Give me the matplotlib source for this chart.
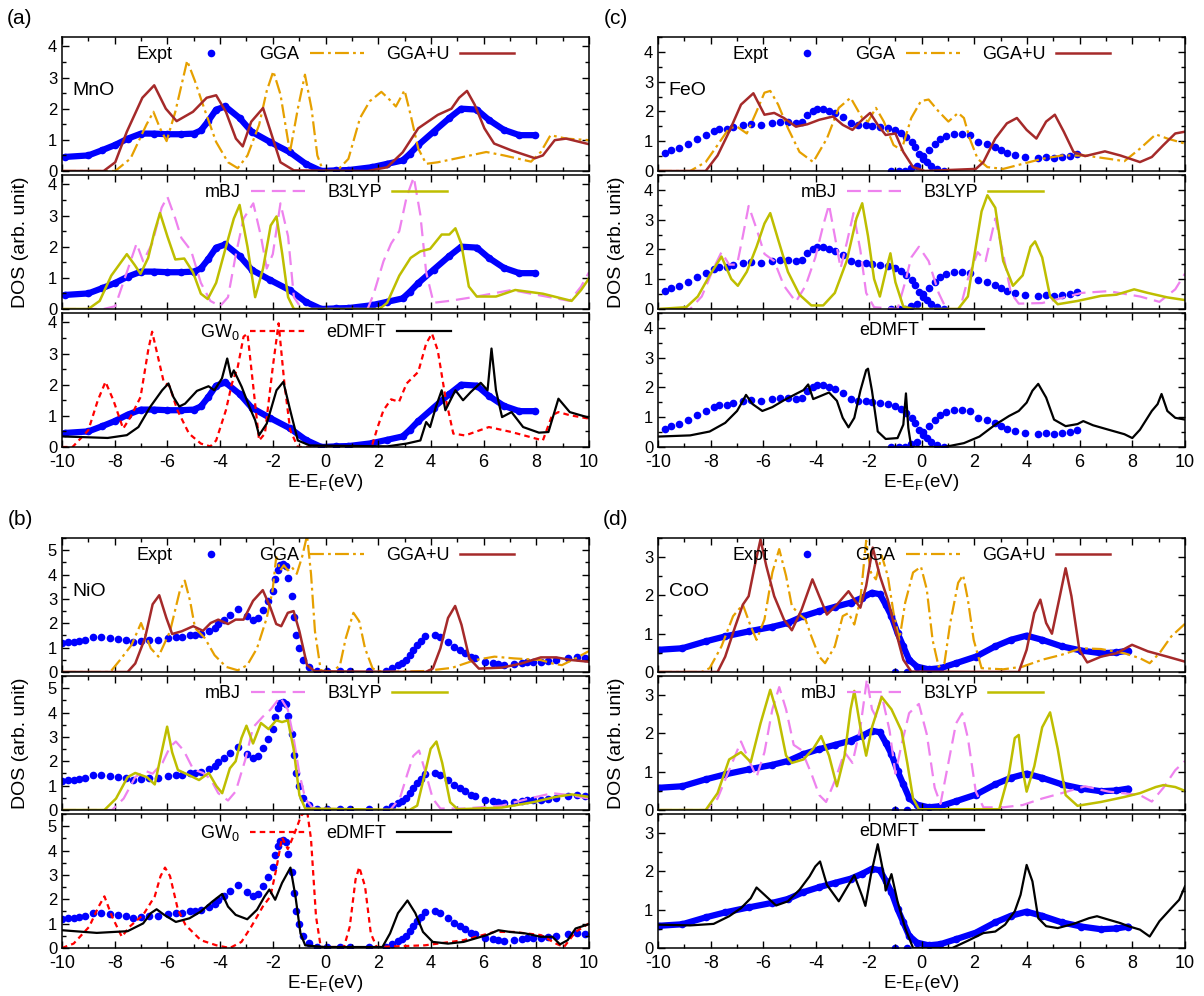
#DOS of MnO, NiO, FeO, CoO: experiment vs. GGA, GGA+U, mBJ, B3LYP, GW0, eDMFT
import numpy as np
import matplotlib.pyplot as plt
from matplotlib.ticker import MultipleLocator

plt.rcParams['font.family'] = ['Liberation Sans', 'DejaVu Sans']
plt.rcParams['mathtext.fontset'] = 'custom'
plt.rcParams['mathtext.rm'] = 'Liberation Sans'
plt.rcParams['axes.unicode_minus'] = False
plt.rcParams['lines.scale_dashes'] = False

# ---------------- MnO ----------------
mno_expt = np.array([(-9.9,0.45),(-9.0,0.5),(-8.5,0.66),(-8.0,0.83),(-7.5,1.04),(-7.0,1.2),(-6.5,1.2),(-6.0,1.18),
    (-5.5,1.18),(-5.0,1.2),(-4.73,1.3),(-4.45,1.6),(-4.15,1.97),(-3.8,2.07),(-3.26,1.7),(-2.8,1.26),(-2.1,0.93),
    (-1.35,0.6),(-0.75,0.23),(-0.16,0.0),(0.4,0.02),(0.87,0.03),(1.75,0.12),(2.34,0.23),(2.93,0.34),(3.2,0.55),
    (3.52,0.83),(4.1,1.26),(4.7,1.7),(5.15,2.0),(5.74,1.97),(6.2,1.64),(6.77,1.32),(7.36,1.15),(7.95,1.15)])
mno_gga = np.array([(-10,0),(-7.98,0),(-7.4,0.4),(-6.8,1.48),(-6.53,1.9),(-6.28,1.37),(-6.03,0.96),(-5.7,1.9),
    (-5.25,3.54),(-4.96,2.9),(-4.6,2.0),(-4.15,0.93),(-3.7,0.28),(-3.33,0.09),(-2.96,0.5),(-2.52,1.48),(-2.23,2.57),
    (-1.98,3.2),(-1.71,2.46),(-1.35,0.6),(-1.05,2.0),(-0.78,3.09),(-0.53,2.0),(-0.31,0.5),(-0.09,0),(0.43,0),
    (0.87,0.39),(1.31,1.7),(1.68,2.24),(2.12,2.54),(2.49,2.24),(2.67,2.07),(3.0,2.59),(3.23,1.8),(3.52,0.72),
    (3.82,0.23),(4.26,0.28),(5.0,0.41),(6.1,0.61),(6.77,0.5),(7.8,0.3),(8.17,0.61),(8.54,1.15),(9.13,1.04),(10,0.99)])
mno_ggau = np.array([(-10,0),(-8.42,0),(-7.98,0.28),(-7.54,1.26),(-6.95,2.35),(-6.5,2.75),(-6.06,2.0),(-5.65,1.6),
    (-5.03,1.9),(-4.51,2.35),(-4.15,2.43),(-3.78,1.9),(-3.4,1.04),(-3.14,0.79),(-2.82,1.58),(-2.37,2.02),(-2.08,1.26),
    (-1.71,0.28),(-1.2,0.02),(1.6,0),(2.34,0.12),(2.93,0.6),(3.52,1.37),(4.26,1.8),(4.78,2.0),(5.07,2.35),(5.37,2.57),
    (5.66,2.13),(6.03,1.37),(6.4,0.88),(7.06,0.66),(7.95,0.41),(8.25,0.5),(8.7,0.99),(9.13,1.04),(10,0.86)])
mno_mbj = np.array([(-10,0),(-8.42,0),(-7.98,0.09),(-7.54,1.18),(-7.17,2.1),(-6.92,1.53),(-6.58,2.1),(-6.22,3.25),
    (-6.0,3.6),(-5.7,2.9),(-5.47,2.28),(-5.1,1.87),(-4.73,0.84),(-4.37,0.26),(-4.0,0.09),(-3.7,0.38),(-3.4,1.76),
    (-3.11,2.9),(-2.74,3.39),(-2.45,2.33),(-2.23,1.3),(-2.0,1.76),(-1.71,3.39),(-1.42,2.33),(-1.2,0.38),(-0.9,0),
    (1.6,0),(1.83,0.49),(2.2,1.53),(2.49,2.1),(2.8,2.5),(3.08,3.6),(3.35,4.23),(3.6,3.02),(3.82,1.18),(4.1,0.2),
    (4.7,0.26),(5.6,0.38),(7.06,0.61),(7.8,0.49),(9.27,0.26),(9.7,0.72),(10,1.18)])
mno_b3lyp = np.array([(-10,0),(-9.0,0),(-8.57,0.26),(-8.13,1.07),(-7.54,1.76),(-7.24,1.41),(-7.02,1.13),(-6.73,1.64),
    (-6.5,2.45),(-6.28,3.08),(-6.0,2.33),(-5.7,1.59),(-5.36,1.62),(-5.03,1.18),(-4.73,0.49),(-4.47,0.32),(-4.15,0.84),
    (-3.78,1.99),(-3.48,2.9),(-3.26,3.34),(-2.96,1.99),(-2.67,0.38),(-2.37,1.3),(-2.08,2.68),(-1.86,2.97),(-1.64,1.76),
    (-1.42,0.38),(-1.2,0),(2.05,0),(2.34,0.2),(2.8,1.07),(3.23,1.64),(3.6,1.85),(3.97,1.93),(4.41,2.39),(4.7,2.39),
    (4.93,2.59),(5.15,2.1),(5.44,0.72),(5.74,0.4),(6.47,0.4),(7.2,0.61),(8.25,0.49),(9.34,0.26),(9.7,0.61),(10,0.98)])
mno_gw = np.array([(-10,0),(-9.6,0),(-9.0,0.54),(-8.64,1.5),(-8.35,2.09),(-8.05,1.5),(-7.68,0.59),(-7.4,0.96),
    (-7.02,1.6),(-6.73,3.1),(-6.58,3.7),(-6.36,2.9),(-6.14,2.09),(-5.92,1.95),(-5.62,1.18),(-5.18,0.43),(-4.73,0.11),
    (-4.37,0.02),(-4.15,0.21),(-3.78,1.18),(-3.55,2.04),(-3.33,2.57),(-3.11,3.54),(-2.96,3.64),(-2.74,1.93),(-2.52,0.21),
    (-2.3,0.43),(-2.0,2.57),(-1.78,3.97),(-1.56,2.04),(-1.34,0.54),(-1.05,0),(1.75,0),(1.98,0.64),(2.2,1.18),(2.49,1.53),
    (2.79,1.45),(3.08,2.04),(3.52,2.41),(3.82,3.32),(4.04,3.64),(4.26,3.1),(4.55,1.6),(4.85,0.43),(5.3,0.37),(6.2,0.64),
    (7.06,0.48),(8.25,0.21),(8.6,1.02),(8.84,1.12),(9.27,1.02),(10,0.91)])
mno_dmft = np.array([(-10,0.34),(-8.27,0.29),(-7.54,0.38),(-7.1,0.64),(-6.65,1.29),(-6.2,1.82),(-5.96,2.04),(-5.77,1.6),
    (-5.55,1.3),(-5.33,1.39),(-4.88,1.8),(-4.44,1.95),(-4.22,1.82),(-3.93,2.2),(-3.73,2.84),(-3.58,2.25),(-3.48,2.46),
    (-3.18,1.93),(-2.89,1.29),(-2.67,0.86),(-2.52,0.38),(-2.23,0.75),(-1.86,1.82),(-1.6,2.09),(-1.34,1.18),(-1.05,0.21),
    (-0.6,0.05),(2.35,0.02),(3.08,0.11),(3.6,0.21),(3.82,0.8),(3.97,0.64),(4.19,1.29),(4.41,1.82),(4.55,1.18),(4.93,1.82),
    (5.22,1.5),(5.52,1.77),(5.89,2.06),(6.15,1.82),(6.3,3.16),(6.47,1.82),(6.7,0.96),(7.06,1.12),(7.5,0.64),(8.1,0.46),
    (8.46,0.48),(8.84,1.55),(9.27,1.12),(10,0.94)])

# ---------------- NiO ----------------
nio_expt = np.array([(-10.0,1.18),(-9.78,1.22),(-9.56,1.25),(-9.34,1.28),(-9.12,1.32),(-8.83,1.42),(-8.51,1.43),
    (-8.17,1.39),(-7.88,1.35),(-7.58,1.31),(-7.29,1.25),(-7.0,1.29),(-6.7,1.32),(-6.34,1.33),(-5.97,1.39),(-5.68,1.42),
    (-5.46,1.44),(-5.16,1.5),(-4.95,1.53),(-4.73,1.55),(-4.43,1.67),(-4.21,1.8),(-4.07,1.97),(-3.85,2.15),(-3.63,2.36),
    (-3.33,2.57),(-2.97,2.29),(-2.75,2.15),(-2.56,2.22),(-2.38,2.53),(-2.19,2.92),(-2.01,3.33),(-1.91,3.82),(-1.82,4.19),
    (-1.72,4.4),(-1.62,4.42),(-1.5,4.37),(-1.43,3.86),(-1.28,3.13),(-1.21,2.25),(-1.11,1.53),(-0.99,0.97),(-0.84,0.49),
    (-0.62,0.21),(-0.33,0.03),(0.04,0.03),(0.55,0.03),(0.92,0.03),(1.65,0.03),(2.31,0.03),(2.53,0.17),(2.75,0.28),
    (2.89,0.35),(3.04,0.49),(3.19,0.69),(3.33,0.9),(3.48,1.11),(3.63,1.28),(3.77,1.46),(4.14,1.5),(4.36,1.42),(4.65,1.25),
    (4.87,1.04),(5.09,0.9),(5.31,0.76),(5.53,0.63),(5.68,0.56),(6.04,0.39),(6.34,0.35),(6.56,0.31),(6.78,0.28),(7.14,0.31),
    (7.44,0.35),(7.66,0.39),(7.88,0.39),(8.17,0.42),(8.46,0.45),(8.75,0.49),(9.19,0.56),(9.56,0.63),(9.85,0.56)])
nio_gga = np.array([(-10,0),(-8.17,0),(-7.8,0.49),(-7.36,1.11),(-7.0,2.01),(-6.63,0.97),(-6.34,0.63),(-5.9,1.67),
    (-5.53,3.33),(-5.34,3.75),(-5.14,2.92),(-4.95,1.8),(-4.58,1.39),(-4.21,0.69),(-3.77,0.21),(-3.33,0.07),(-2.97,0.28),
    (-2.6,0.97),(-2.23,2.22),(-2.01,3.33),(-1.87,4.72),(-1.72,4.17),(-1.58,4.38),(-1.43,4.17),(-1.28,4.31),(-1.09,4.03),
    (-0.89,4.72),(-0.7,5.6),(-0.55,4.03),(-0.4,1.67),(-0.18,0.07),(0.26,0),(0.55,0.28),(0.77,1.39),(1.06,2.43),(1.28,2.08),
    (1.5,0.97),(1.79,0.14),(2.16,0),(3.77,0.04),(4.8,0.17),(5.68,0.49),(6.41,0.63),(7.14,0.56),(8.17,0.49),(8.61,0.35),
    (8.97,0.28),(9.49,0.56),(10,0.86)])
nio_ggau = np.array([(-10,0),(-7.51,0),(-7.22,0.35),(-6.85,1.39),(-6.56,2.78),(-6.31,3.15),(-6.04,2.22),(-5.82,1.56),
    (-5.46,1.67),(-5.02,1.88),(-4.65,1.69),(-4.36,2.01),(-4.07,2.15),(-3.7,1.97),(-3.41,2.15),(-3.11,2.15),(-2.75,2.92),
    (-2.38,3.36),(-2.09,2.64),(-1.87,1.97),(-1.68,1.88),(-1.43,2.43),(-1.21,2.5),(-0.99,1.67),(-0.7,0.28),(-0.4,0.03),
    (3.8,0),(4.07,0.14),(4.36,0.97),(4.65,2.22),(4.92,2.71),(5.16,1.94),(5.46,0.56),(5.82,0.14),(6.7,0.18),(7.44,0.35),
    (8.17,0.6),(8.75,0.6),(9.34,0.49),(10,0.42)])
nio_mbj = np.array([(-10,0),(-8.1,0),(-7.66,0.47),(-7.22,1.35),(-6.85,1.61),(-6.56,1.49),(-6.19,1.93),(-5.9,2.59),
    (-5.68,2.81),(-5.38,2.44),(-5.02,1.67),(-4.65,1.52),(-4.36,1.27),(-4.07,0.69),(-3.7,0.39),(-3.41,0.76),(-3.04,2.08),
    (-2.75,3.39),(-2.38,3.83),(-2.09,4.12),(-1.72,4.63),(-1.43,4.12),(-1.21,2.95),(-0.99,1.49),(-0.77,0.47),(-0.48,0.06),
    (2.45,0),(2.82,0.47),(3.11,1.49),(3.33,2.22),(3.55,2.44),(3.77,1.64),(4.07,0.47),(4.36,0.06),(5.24,0.06),(6.7,0.18),
    (7.73,0.47),(8.61,0.69),(9.27,0.61),(10,0.47)])
nio_b3lyp = np.array([(-10,0),(-8.39,0),(-7.95,0.47),(-7.51,1.35),(-7.22,1.52),(-6.78,1.35),(-6.48,1.05),(-6.22,2.37),
    (-6.01,3.42),(-5.82,2.37),(-5.6,1.64),(-5.16,1.42),(-4.8,1.23),(-4.43,1.52),(-4.14,0.98),(-3.92,0.69),(-3.63,1.71),
    (-3.41,2.0),(-3.19,2.95),(-3.0,3.46),(-2.75,2.73),(-2.45,3.57),(-2.16,3.32),(-1.87,3.68),(-1.65,3.61),(-1.43,3.68),
    (-1.21,2.51),(-0.99,0.61),(-0.77,0.06),(3.19,0),(3.48,0.18),(3.77,1.49),(3.99,2.51),(4.21,2.81),(4.43,1.93),
    (4.73,0.32),(5.02,0.03),(6.7,0.1),(7.88,0.32),(8.75,0.54),(9.34,0.64),(10,0.54)])
nio_gw = np.array([(-10,0),(-9.56,0.18),(-8.97,0.87),(-8.61,1.7),(-8.39,2.12),(-8.1,1.29),(-7.73,0.46),(-7.44,0.87),
    (-6.92,1.36),(-6.48,2.12),(-6.26,2.95),(-6.09,3.3),(-5.9,2.95),(-5.6,1.57),(-5.31,0.94),(-4.73,0.32),(-4.14,0.11),
    (-3.63,0),(-3.19,0.25),(-2.82,0.87),(-2.38,1.7),(-2.09,2.12),(-1.87,3.23),(-1.65,4.54),(-1.43,4.06),(-1.21,4.61),
    (-0.92,5.44),(-0.7,5.65),(-0.55,4.47),(-0.36,1.29),(-0.18,0.04),(0.7,0.04),(0.92,0.87),(1.14,2.81),(1.28,3.32),
    (1.5,2.53),(1.72,0.6),(1.94,0.04),(3.77,0.11),(5.24,0.32),(6.41,0.66),(7.14,0.66),(8.17,0.53),(8.75,0.18),(9.05,0.04),
    (9.49,0.66),(10,1.01)])
nio_dmft = np.array([(-10,0.73),(-8.68,0.62),(-7.51,0.69),(-6.92,1.01),(-6.63,1.43),(-6.41,1.59),(-6.12,1.36),
    (-5.68,1.07),(-5.16,1.22),(-4.73,1.5),(-4.29,1.91),(-3.92,2.22),(-3.7,1.7),(-3.41,1.36),(-2.97,1.18),(-2.6,1.57),
    (-2.31,2.12),(-2.13,2.4),(-1.91,1.98),(-1.65,2.67),(-1.33,3.3),(-1.14,2.12),(-0.95,0.6),(-0.77,0.11),(-0.04,0.04),
    (2.16,0.04),(2.45,0.6),(2.75,1.43),(3.11,1.95),(3.41,1.43),(3.7,0.66),(4.07,0.25),(4.65,0.18),(5.24,0.25),(5.68,0.39),
    (6.12,0.53),(6.56,0.73),(7.0,0.66),(7.58,0.6),(8.17,0.46),(8.61,0.46),(8.9,0.15),(9.19,0.32),(9.49,0.8),(10,0.98)])

# ---------------- FeO ----------------
feo_expt_occ = np.array([(-9.75,0.6),(-9.52,0.7),(-9.2,0.77),(-8.86,0.9),(-8.51,1.07),(-8.19,1.21),(-7.89,1.34),
    (-7.67,1.4),(-7.37,1.4),(-7.15,1.49),(-6.78,1.55),(-6.48,1.57),(-6.11,1.55),(-5.69,1.6),(-5.37,1.64),(-5.07,1.64),
    (-4.77,1.6),(-4.55,1.66),(-4.33,1.89),(-4.11,2.0),(-3.96,2.08),(-3.73,2.08),(-3.51,2.0),(-3.29,1.95),(-2.99,1.8),
    (-2.69,1.6),(-2.4,1.55),(-2.1,1.53),(-1.88,1.52),(-1.58,1.49),(-1.28,1.44),(-0.99,1.38),(-0.76,1.26),(-0.57,1.15),
    (-0.35,0.98),(-0.25,0.81),(-0.1,0.58),(0.05,0.41),(0.2,0.3),(0.35,0.18),(0.57,0.07),(0.87,0.0)])
feo_expt_unocc = np.array([(-1.14,0),(-0.85,0),(-0.62,0),(-0.39,0.09),(-0.17,0.18),(0.05,0.52),(0.27,0.7),(0.5,0.92),
    (0.72,1.09),(0.94,1.19),(1.24,1.23),(1.54,1.23),(1.83,1.21),(2.13,0.98),(2.5,0.92),(2.8,0.81),(3.02,0.7),(3.24,0.62),
    (3.54,0.55),(3.91,0.47),(4.43,0.43),(4.73,0.47),(5.03,0.43),(5.32,0.47),(5.62,0.52),(5.92,0.58)])
feo_gga = np.array([(-10,0),(-8.78,0),(-8.19,0.3),(-7.74,0.87),(-7.3,1.44),(-7.0,1.49),(-6.63,1.26),(-6.26,2.0),
    (-5.96,2.63),(-5.74,2.69),(-5.44,2.23),(-5.07,1.44),(-4.63,0.64),(-4.11,0.3),(-3.59,1.09),(-3.14,2.12),(-2.69,2.46),
    (-2.25,1.78),(-2.03,1.66),(-1.73,2.12),(-1.43,1.66),(-1.06,0.87),(-0.76,0.7),(-0.39,1.78),(-0.02,2.35),(0.27,2.4),
    (0.65,2.0),(1.02,1.66),(1.39,1.95),(1.61,1.78),(1.83,1.09),(2.13,0.41),(2.5,0.13),(3.1,0.07),(3.84,0.24),(4.58,0.41),
    (5.32,0.52),(6.21,0.52),(7.1,0.41),(7.7,0.33),(8.29,0.75),(8.89,1.23),(9.33,1.09),(10,0.92)])
feo_ggau = np.array([(-10,0),(-8.19,0),(-7.74,0.52),(-7.3,1.32),(-6.85,2.23),(-6.38,2.61),(-5.96,1.89),(-5.59,1.95),
    (-5.22,1.78),(-4.77,1.49),(-4.33,1.57),(-3.88,1.72),(-3.36,1.83),(-2.99,1.55),(-2.62,1.38),(-2.25,1.72),(-1.95,1.95),
    (-1.66,1.55),(-1.36,1.21),(-0.99,1.26),(-0.69,0.64),(-0.32,0.13),(0.13,0),(2.06,0.07),(2.35,0.3),(2.8,1.09),
    (3.24,1.6),(3.62,1.78),(3.99,1.38),(4.36,1.09),(4.73,1.66),(5.06,1.89),(5.4,1.32),(5.77,0.64),(6.21,0.5),(6.96,0.66),
    (7.55,0.52),(8.29,0.3),(8.74,0.47),(9.18,0.87),(9.63,1.26),(10,1.32)])
feo_mbj = np.array([(-10,0),(-8.78,0),(-8.34,0.42),(-7.89,1.37),(-7.59,1.91),(-7.3,1.49),(-7.0,1.49),(-6.78,2.45),
    (-6.56,3.46),(-6.26,2.69),(-5.96,1.85),(-5.59,1.61),(-5.22,0.78),(-4.77,0.24),(-4.4,0.78),(-4.03,1.73),(-3.73,2.81),
    (-3.51,3.5),(-3.29,2.45),(-3.07,1.37),(-2.84,2.21),(-2.58,3.22),(-2.32,1.97),(-2.1,0.54),(-1.8,0.06),(-0.91,0),
    (-0.62,0.9),(-0.39,1.73),(-0.1,2.09),(0.27,1.61),(0.65,0.54),(0.94,0),(1.46,0),(1.76,1.01),(2.13,1.91),(2.43,1.61),
    (2.8,3.04),(3.1,1.85),(3.39,0.54),(3.69,0.18),(4.58,0.2),(6.07,0.54),(7.1,0.6),(8.29,0.42),(9.03,0.24),(9.63,0.66),
    (10,1.19)])
feo_b3lyp = np.array([(-10,0),(-8.93,0.06),(-8.49,0.42),(-8.04,1.13),(-7.59,1.76),(-7.22,1.01),(-6.97,0.78),
    (-6.63,1.25),(-6.26,2.09),(-5.96,2.87),(-5.74,3.22),(-5.44,2.33),(-5.07,1.25),(-4.63,0.48),(-4.18,0.12),(-3.73,0.12),
    (-3.29,0.54),(-2.84,1.61),(-2.47,3.04),(-2.25,3.55),(-2.03,2.45),(-1.8,1.01),(-1.58,0.42),(-1.36,1.25),(-1.18,1.87),
    (-0.99,0.9),(-0.69,0.08),(-0.32,0),(1.39,0),(1.76,0.42),(2.06,2.09),(2.28,3.28),(2.5,3.82),(2.8,3.4),(3.1,1.61),
    (3.47,0.78),(3.84,1.13),(4.14,2.09),(4.31,2.27),(4.58,1.73),(4.88,0.42),(5.17,0.16),(5.92,0.27),(6.81,0.44),
    (7.4,0.48),(8.07,0.66),(8.59,0.54),(9.33,0.39),(10,0.3)])
feo_dmft = np.array([(-10,0.35),(-8.78,0.39),(-8.04,0.52),(-7.45,0.81),(-7.0,1.21),(-6.78,1.55),(-6.66,1.75),
    (-6.41,1.44),(-6.04,1.21),(-5.66,1.34),(-5.22,1.57),(-4.77,1.78),(-4.48,1.91),(-4.3,2.1),(-4.11,1.61),(-3.81,1.72),
    (-3.51,1.83),(-3.21,1.55),(-2.99,0.98),(-2.77,0.66),(-2.55,0.98),(-2.32,1.89),(-2.1,2.58),(-2.03,2.63),(-1.88,1.89),
    (-1.66,0.52),(-1.36,0.27),(-0.91,0.3),(-0.69,0.75),(-0.59,1.8),(-0.5,0.64),(-0.39,0),(0.87,0),(1.61,0.13),(2.2,0.35),
    (2.8,0.75),(3.32,1.04),(3.69,1.21),(3.99,1.49),(4.21,1.89),(4.43,2.12),(4.73,1.66),(5.03,0.92),(5.47,0.7),(5.92,0.77),
    (6.14,0.87),(6.51,0.73),(7.1,0.58),(7.7,0.43),(8.0,0.3),(8.29,0.58),(8.74,1.21),(8.96,1.44),(9.11,1.78),(9.33,1.21),
    (9.63,0.98),(10,0.92)])

# ---------------- CoO ----------------
coo_expt = np.array([(-9.97,0.58),(-9.08,0.62),(-8.19,0.8),(-7.45,0.93),(-6.56,1.06),(-5.66,1.18),(-5.07,1.28),
    (-4.48,1.46),(-3.88,1.59),(-3.29,1.7),(-2.69,1.81),(-2.25,1.94),(-1.88,2.07),(-1.58,2.03),(-1.36,1.76),(-1.14,1.46),
    (-0.91,1.02),(-0.69,0.67),(-0.47,0.32),(-0.17,0.14),(0.27,0.07),(0.72,0.1),(1.31,0.23),(2.06,0.4),(2.8,0.67),
    (3.39,0.84),(3.99,0.95),(4.58,0.84),(5.32,0.67),(6.07,0.56),(6.81,0.49),(7.4,0.51),(7.85,0.56)])
coo_expt_low = np.array([(-1.0,0),(-0.55,0)])
coo_gga = np.array([(-10,0),(-8.34,0),(-8.04,0.1),(-7.59,0.67),(-7.15,1.46),(-6.78,1.76),(-6.48,1.19),(-6.26,0.84),
    (-5.96,1.37),(-5.66,2.6),(-5.4,3.21),(-5.14,2.51),(-4.92,1.72),(-4.63,1.5),(-4.4,1.37),(-4.18,0.93),(-3.88,0.4),
    (-3.66,0.23),(-3.29,0.67),(-2.99,1.46),(-2.77,1.54),(-2.55,1.24),(-2.32,1.89),(-2.1,3.43),(-1.92,2.6),(-1.73,2.42),
    (-1.51,3.04),(-1.28,2.51),(-1.06,1.54),(-0.84,0.84),(-0.62,1.81),(-0.32,2.6),(-0.02,2.75),(0.2,2.16),(0.42,0.84),
    (0.65,0.14),(0.87,0.23),(1.09,1.28),(1.39,2.33),(1.58,2.53),(1.76,1.89),(1.98,0.84),(2.28,0.1),(3.1,0.07),(3.84,0.14),
    (4.58,0.32),(5.32,0.45),(6.07,0.62),(6.81,0.6),(7.7,0.49),(8.29,0.36),(8.66,0.23),(9.03,0.49),(9.48,0.93),(10,1.26)])
coo_ggau = np.array([(-10,0),(-7.74,0),(-7.45,0.4),(-7.07,1.19),(-6.78,1.76),(-6.56,1.98),(-6.33,2.77),(-6.11,3.46),
    (-5.89,2.77),(-5.59,1.98),(-5.22,1.37),(-4.92,1.09),(-4.55,1.63),(-4.14,2.42),(-3.88,1.98),(-3.59,1.5),(-3.21,1.76),
    (-2.77,2.11),(-2.55,1.89),(-2.32,1.68),(-2.1,2.25),(-1.85,3.25),(-1.58,2.51),(-1.28,1.89),(-0.99,1.1),(-0.69,0.32),
    (-0.39,0.01),(3.69,0),(3.99,0.58),(4.28,1.54),(4.51,1.89),(4.73,1.28),(4.95,1.0),(5.25,1.98),(5.47,2.71),(5.69,1.98),
    (5.99,0.58),(6.29,0.25),(6.81,0.4),(7.4,0.49),(7.99,0.71),(8.59,0.54),(9.33,0.4),(10,0.27)])
coo_mbj = np.array([(-10,0),(-8.19,0),(-7.74,0.3),(-7.3,1.04),(-6.85,1.79),(-6.56,1.32),(-6.26,0.86),(-5.96,1.51),
    (-5.66,2.63),(-5.4,3.21),(-5.14,2.63),(-4.85,1.7),(-4.55,1.56),(-4.18,0.95),(-3.88,0.39),(-3.62,0.21),(-3.29,0.76),
    (-2.92,1.51),(-2.62,1.23),(-2.32,2.16),(-2.07,3.42),(-1.88,2.63),(-1.73,2.44),(-1.51,3.0),(-1.21,2.07),(-0.99,0.95),
    (-0.76,1.7),(-0.47,2.53),(-0.1,2.77),(0.2,1.98),(0.5,0.58),(0.72,0.16),(1.02,1.23),(1.31,2.26),(1.54,2.53),(1.76,1.88),
    (2.06,0.48),(2.35,0.07),(3.1,0.07),(3.84,0.13),(4.58,0.3),(5.32,0.44),(6.21,0.62),(7.1,0.48),(8.29,0.39),(8.74,0.22),
    (9.18,0.58),(9.63,1.04),(10,1.28)])
coo_b3lyp = np.array([(-10,0),(-8.19,0),(-7.74,0.44),(-7.3,1.32),(-6.85,1.51),(-6.48,1.25),(-6.11,2.26),(-5.74,3.14),
    (-5.44,2.44),(-5.14,1.42),(-4.92,1.23),(-4.48,1.32),(-4.11,1.6),(-3.81,1.93),(-3.51,1.42),(-3.21,0.62),(-2.92,1.42),
    (-2.69,2.63),(-2.55,3.11),(-2.32,2.16),(-2.1,1.42),(-1.88,2.16),(-1.51,2.95),(-1.14,2.63),(-0.76,2.07),(-0.54,1.23),
    (-0.32,0.3),(-0.1,0.02),(2.95,0.02),(3.32,0.95),(3.54,1.88),(3.69,1.96),(3.84,1.04),(3.99,0.48),(4.28,1.14),
    (4.58,2.16),(4.88,2.55),(5.17,1.6),(5.47,0.39),(5.92,0.11),(6.81,0.21),(7.7,0.34),(8.29,0.44),(8.89,0.6),(9.18,0.65),
    (9.63,0.6),(10,0.5)])
coo_dmft = np.array([(-10,0.61),(-8.78,0.59),(-7.89,0.63),(-7.3,0.83),(-6.85,1.04),(-6.48,1.3),(-6.26,1.58),
    (-5.96,1.39),(-5.52,1.11),(-5.07,1.22),(-4.63,1.52),(-4.25,1.87),(-4.03,2.13),(-3.85,2.26),(-3.59,1.65),(-3.14,1.22),
    (-2.77,1.65),(-2.55,1.9),(-2.25,1.35),(-2.13,1.1),(-1.92,1.91),(-1.66,2.71),(-1.43,1.91),(-1.36,1.5),(-1.14,1.93),
    (-0.91,1.22),(-0.62,0.52),(-0.32,0),(1.17,0),(1.76,0.19),(2.35,0.39),(2.8,0.43),(3.17,0.61),(3.54,0.96),(3.76,1.39),
    (3.99,2.17),(4.21,1.74),(4.43,0.78),(4.73,0.57),(5.17,0.52),(5.77,0.63),(6.36,0.78),(6.66,0.83),(7.1,0.74),(7.55,0.65),
    (7.85,0.57),(8.29,0.48),(8.66,0.3),(9.03,0.7),(9.48,1.04),(9.78,1.26),(10,1.61)])

xticks = [-10, -8, -6, -4, -2, 0, 2, 4, 6, 8, 10]
xticklabels = ['-10', '-8', '-6', '-4', '-2', '0', '2', '4', '6', '8', '10']

blue = '#0000ff'
style = {
    'GGA': dict(color='#e6a000', lw=1.6, ls=(0, (10, 3, 2, 3))),
    'GGA+U': dict(color='#a52a2a', lw=1.8, ls='-'),
    'mBJ': dict(color='#ee82ee', lw=1.6, ls=(0, (10, 5))),
    'B3LYP': dict(color='#bebe00', lw=1.8, ls='-'),
    r'GW$_{\mathrm{0}}$': dict(color='#ff0000', lw=1.6, ls=(0, (4, 3))),
    'eDMFT': dict(color='black', lw=1.6, ls='-'),
}

W, H = 1204, 996
fig = plt.figure(figsize=(12.04, 9.96), dpi=100)


def add_column(x0, x1, rows):
    axs = []
    for t, b in rows:
        axs.append(fig.add_axes([x0 / W, 1 - b / H, (x1 - x0) / W, (b - t) / H]))
    return axs


def draw_expt(ax, data, dense, extra=None):
    if dense:
        ax.plot(data[:, 0], data[:, 1], '-', color=blue, lw=4.5, solid_capstyle='round', zorder=1)
    ax.plot(data[:, 0], data[:, 1], 'o', color=blue, ms=5.5, mec='none', label='Expt', zorder=1)
    if extra is not None:
        ax.plot(extra[:, 0], extra[:, 1], 'o', color=blue, ms=5.5, mec='none', zorder=1)


def finish(ax, ymax, bottom):
    ax.set_xlim(-10, 10)
    ax.set_ylim(0, ymax)
    ax.set_xticks(xticks)
    ax.xaxis.set_minor_locator(MultipleLocator(1))
    ax.yaxis.set_major_locator(MultipleLocator(1))
    ax.yaxis.set_minor_locator(MultipleLocator(0.5))
    ax.tick_params(which='both', direction='in', top=True, right=True, labelsize=12, width=1)
    ax.tick_params(which='major', length=5)
    ax.tick_params(which='minor', length=3)
    ax.tick_params(axis='x', pad=5, labelsize=13)
    for s in ax.spines.values():
        s.set_linewidth(1.1)
    if bottom:
        ax.set_xticklabels(xticklabels)
        ax.set_xlabel(r'E-E$_{\mathrm{F}}$(eV)', fontsize=13.5, labelpad=1)
    else:
        ax.tick_params(labelbottom=False)
    ax.legend(loc='upper center', frameon=False, markerfirst=False, fontsize=13, handlelength=3.0,
              handletextpad=0.6, columnspacing=1.2, borderaxespad=0.2, borderpad=0.3, numpoints=1,
              ncol=len(ax.get_legend_handles_labels()[0]))


panels = [
    ('(a)', 'MnO', 62, 589, [(37, 171), (175, 309), (313, 447)], 4.3, mno_expt, True, None,
     [('GGA', mno_gga), ('GGA+U', mno_ggau)], [('mBJ', mno_mbj), ('B3LYP', mno_b3lyp)],
     [(r'GW$_{\mathrm{0}}$', mno_gw), ('eDMFT', mno_dmft)]),
    ('(b)', 'NiO', 62, 589, [(538, 672), (676, 810), (814, 948)], 5.5, nio_expt, False, None,
     [('GGA', nio_gga), ('GGA+U', nio_ggau)], [('mBJ', nio_mbj), ('B3LYP', nio_b3lyp)],
     [(r'GW$_{\mathrm{0}}$', nio_gw), ('eDMFT', nio_dmft)]),
    ('(c)', 'FeO', 658, 1185, [(37, 171), (175, 309), (313, 447)], 4.5, feo_expt_occ, False, feo_expt_unocc,
     [('GGA', feo_gga), ('GGA+U', feo_ggau)], [('mBJ', feo_mbj), ('B3LYP', feo_b3lyp)],
     [('eDMFT', feo_dmft)]),
    ('(d)', 'CoO', 658, 1185, [(538, 672), (676, 810), (814, 948)], 3.5, coo_expt, True, coo_expt_low,
     [('GGA', coo_gga), ('GGA+U', coo_ggau)], [('mBJ', coo_mbj), ('B3LYP', coo_b3lyp)],
     [('eDMFT', coo_dmft)]),
]

for tag, name, x0, x1, rows, ymax, expt, dense, extra, top, mid, bot in panels:
    axs = add_column(x0, x1, rows)
    for i, (ax, series) in enumerate(zip(axs, [top, mid, bot])):
        draw_expt(ax, expt, dense, extra)
        if i > 0:
            # experiment shown without key in the lower panels
            for ln in ax.get_lines():
                ln.set_label('_nolegend_')
        for lab, d in series:
            ax.plot(d[:, 0], d[:, 1], label=lab, zorder=2, **style[lab])
        finish(ax, ymax, i == 2)
    axs[0].text(0.02, 0.6, name, transform=axs[0].transAxes, fontsize=14, va='center')
    axs[1].set_ylabel('DOS (arb. unit)', fontsize=14)
    axs[1].yaxis.set_label_coords(-0.062, 0.5)
    fig.text((x0 - 42) / W, 1 - (rows[0][0] - 19) / H, tag, fontsize=15, ha='center', va='center')

plt.savefig('out.png', dpi=100)
